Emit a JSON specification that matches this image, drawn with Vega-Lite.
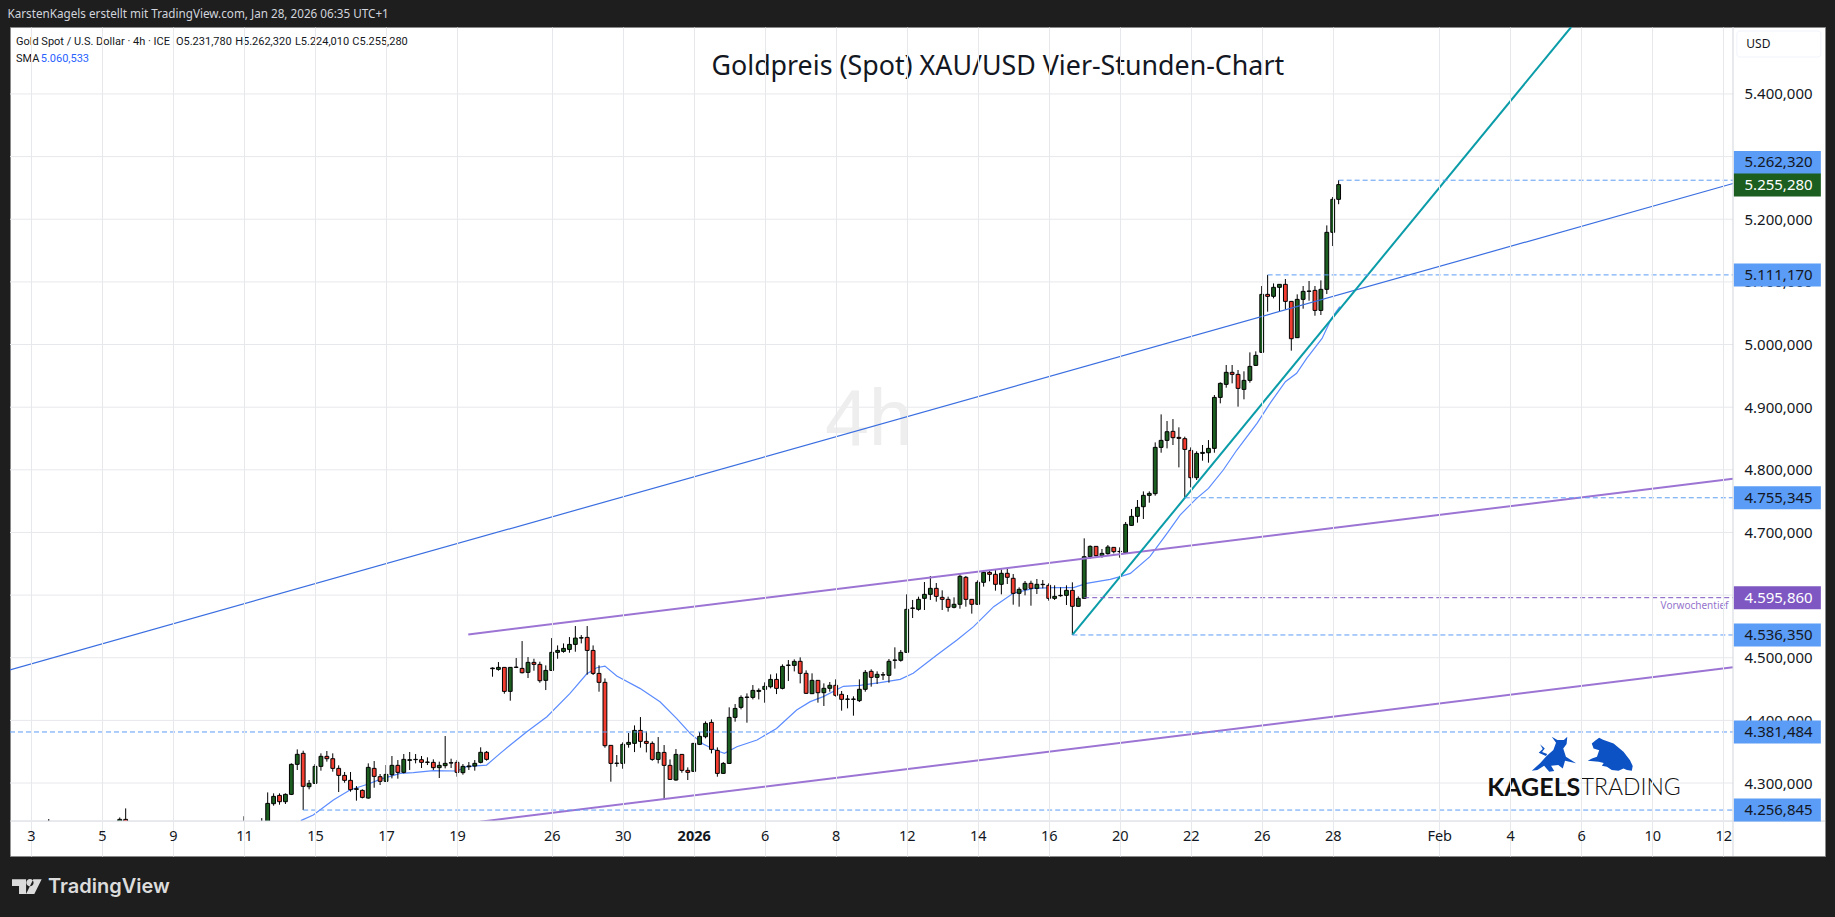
{
"$schema":"https://vega.github.io/schema/vega-lite/v6.json",
"width":1815,"height":829,
"autosize":{"type":"none"},
"padding":{"left":10,"top":27,"right":10,"bottom":61},
"background":"#1e1e1e",
"view":{"fill":"#ffffff","stroke":"#8a8a8a"},
"title":{"text":"KarstenKagels erstellt mit TradingView.com, Jan 28, 2026 06:35 UTC+1","anchor":"start","color":"#d1d4dc","font":"Noto Sans","fontSize":11.7,"fontWeight":"normal","offset":6,"dx":-2},
"config":{"font":"Noto Sans"},
"datasets":{
"candles":[
{"bar":3,"open":4225,"high":4242.5,"low":4215,"close":4232},
{"bar":15,"open":4228,"high":4245,"low":4222,"close":4242},
{"bar":16,"open":4242,"high":4259.5,"low":4225,"close":4230},
{"bar":36,"open":4225,"high":4247,"low":4218,"close":4232},
{"bar":39,"open":4228,"high":4244,"low":4222,"close":4235},
{"bar":40,"open":4232,"high":4285,"low":4225,"close":4267.5},
{"bar":41,"open":4267,"high":4283.5,"low":4263.8,"close":4278.7},
{"bar":42,"open":4280.3,"high":4283.5,"low":4265.4,"close":4270.2},
{"bar":43,"open":4270.2,"high":4283.5,"low":4266.5,"close":4281.9},
{"bar":44,"open":4281.9,"high":4331.4,"low":4280.8,"close":4329.8},
{"bar":45,"open":4329.8,"high":4353.7,"low":4320.8,"close":4345.8},
{"bar":46,"open":4347.4,"high":4351.6,"low":4256.9,"close":4294.7},
{"bar":47,"open":4294.1,"high":4304.8,"low":4289.9,"close":4299.5},
{"bar":48,"open":4299.5,"high":4330.3,"low":4298.4,"close":4326.6},
{"bar":49,"open":4326.6,"high":4347.4,"low":4319.7,"close":4342.6},
{"bar":50,"open":4342.6,"high":4351.1,"low":4334.1,"close":4338.8},
{"bar":51,"open":4338.8,"high":4347.4,"low":4318.1,"close":4323.4},
{"bar":52,"open":4323.4,"high":4328.2,"low":4285.6,"close":4312.2},
{"bar":53,"open":4312.2,"high":4317.6,"low":4300.5,"close":4304.3},
{"bar":54,"open":4304.3,"high":4317.6,"low":4286.2,"close":4289.4},
{"bar":55,"open":4289.9,"high":4295.2,"low":4271.8,"close":4290.9},
{"bar":56,"open":4288.3,"high":4289.9,"low":4275.5,"close":4277.1},
{"bar":57,"open":4276,"high":4331.4,"low":4275,"close":4325},
{"bar":58,"open":4323.4,"high":4335.1,"low":4292.5,"close":4310.6},
{"bar":59,"open":4310.1,"high":4314.4,"low":4296.8,"close":4302.7},
{"bar":60,"open":4302.7,"high":4328.7,"low":4301.6,"close":4313.8},
{"bar":61,"open":4313.3,"high":4343.1,"low":4307.4,"close":4328.2},
{"bar":62,"open":4328.2,"high":4336.7,"low":4306.9,"close":4317},
{"bar":63,"open":4317,"high":4346.3,"low":4315.4,"close":4337.8},
{"bar":64,"open":4336.2,"high":4349.5,"low":4320.8,"close":4337.2},
{"bar":65,"open":4337.3,"high":4346.3,"low":4331.4,"close":4337.8},
{"bar":66,"open":4337.2,"high":4343.1,"low":4324,"close":4333},
{"bar":67,"open":4333,"high":4341,"low":4328.7,"close":4333.5},
{"bar":68,"open":4333,"high":4337.8,"low":4320.8,"close":4324.5},
{"bar":69,"open":4324.5,"high":4334.1,"low":4308,"close":4328.2},
{"bar":70,"open":4327.7,"high":4375,"low":4323.4,"close":4331.4},
{"bar":71,"open":4331.9,"high":4338.8,"low":4324,"close":4332.4},
{"bar":72,"open":4333,"high":4336.7,"low":4310.1,"close":4317},
{"bar":73,"open":4316.5,"high":4330.3,"low":4313.3,"close":4326.6},
{"bar":74,"open":4326,"high":4333.5,"low":4320.8,"close":4327.2},
{"bar":75,"open":4327.1,"high":4336.7,"low":4319.7,"close":4331.4},
{"bar":76,"open":4333,"high":4357,"low":4331.4,"close":4349},
{"bar":77,"open":4349,"high":4351.1,"low":4335.7,"close":4337.8},
{"bar":78,"open":4482.5,"high":4484.6,"low":4469.7,"close":4483.5},
{"bar":79,"open":4481.4,"high":4493.1,"low":4479.3,"close":4484.6},
{"bar":80,"open":4484.6,"high":4485,"low":4442.6,"close":4446.3},
{"bar":81,"open":4446.3,"high":4485,"low":4431.4,"close":4484.6},
{"bar":82,"open":4484.6,"high":4499.5,"low":4483.5,"close":4485},
{"bar":83,"open":4483,"high":4526.6,"low":4475,"close":4476.1},
{"bar":84,"open":4476.6,"high":4501.1,"low":4467.6,"close":4492.6},
{"bar":85,"open":4492.6,"high":4498.4,"low":4479.3,"close":4489.4},
{"bar":86,"open":4489.4,"high":4493.7,"low":4460.1,"close":4463.3},
{"bar":87,"open":4463.9,"high":4487.8,"low":4448.4,"close":4479.8},
{"bar":88,"open":4479.8,"high":4531.4,"low":4479.3,"close":4508.6},
{"bar":89,"open":4508.6,"high":4519.7,"low":4498.4,"close":4511.7},
{"bar":90,"open":4510.1,"high":4522.9,"low":4508,"close":4514.9},
{"bar":91,"open":4513.3,"high":4533,"low":4508,"close":4521.3},
{"bar":92,"open":4521.3,"high":4550.6,"low":4509.6,"close":4531.4},
{"bar":93,"open":4531.4,"high":4536.2,"low":4522.9,"close":4532},
{"bar":94,"open":4532.5,"high":4550.6,"low":4472.9,"close":4511.7},
{"bar":95,"open":4511.7,"high":4519.7,"low":4472.4,"close":4475},
{"bar":96,"open":4475,"high":4487.8,"low":4445.8,"close":4460.7},
{"bar":97,"open":4460.7,"high":4467,"low":4356.4,"close":4359.6},
{"bar":98,"open":4360.1,"high":4360.3,"low":4302.1,"close":4331.3},
{"bar":99,"open":4331.3,"high":4344.7,"low":4326,"close":4331.8},
{"bar":100,"open":4331.3,"high":4364.9,"low":4322.8,"close":4361.7},
{"bar":101,"open":4361.7,"high":4379.8,"low":4356.4,"close":4364.9},
{"bar":102,"open":4363.3,"high":4392,"low":4349.4,"close":4384},
{"bar":103,"open":4384,"high":4405.3,"low":4356.4,"close":4366.5},
{"bar":104,"open":4366.5,"high":4382.4,"low":4348.9,"close":4363.3},
{"bar":105,"open":4363.3,"high":4366.5,"low":4335.6,"close":4337.7},
{"bar":106,"open":4337.7,"high":4373.4,"low":4331.3,"close":4348.9},
{"bar":107,"open":4348.9,"high":4360.6,"low":4274.4,"close":4328.2},
{"bar":108,"open":4328.2,"high":4337.7,"low":4304.8,"close":4305.8},
{"bar":109,"open":4304.8,"high":4354.2,"low":4303.7,"close":4345.7},
{"bar":110,"open":4345.7,"high":4346,"low":4316.4,"close":4320.2},
{"bar":111,"open":4320.2,"high":4325,"low":4304.8,"close":4317},
{"bar":112,"open":4318.6,"high":4363.5,"low":4318,"close":4363.3},
{"bar":113,"open":4361.7,"high":4381.4,"low":4360.6,"close":4374.5},
{"bar":114,"open":4373.9,"high":4398.4,"low":4371.3,"close":4395.2},
{"bar":115,"open":4396.8,"high":4401.6,"low":4347.3,"close":4353.7},
{"bar":116,"open":4352.1,"high":4356.9,"low":4310.1,"close":4315.4},
{"bar":117,"open":4315.4,"high":4333.5,"low":4314.9,"close":4331.3},
{"bar":118,"open":4331.3,"high":4420.8,"low":4330.8,"close":4404.8},
{"bar":119,"open":4404.8,"high":4426.1,"low":4397.9,"close":4419.1},
{"bar":120,"open":4420.8,"high":4439.9,"low":4417.6,"close":4436.7},
{"bar":121,"open":4436.7,"high":4443.1,"low":4396.3,"close":4437.2},
{"bar":122,"open":4436.7,"high":4456.4,"low":4433.5,"close":4447.9},
{"bar":123,"open":4446.3,"high":4451.1,"low":4433.5,"close":4447.9},
{"bar":124,"open":4449.5,"high":4460.7,"low":4428.2,"close":4454.3},
{"bar":125,"open":4453.7,"high":4473.4,"low":4451.1,"close":4465.4},
{"bar":126,"open":4465.4,"high":4475,"low":4442,"close":4451.1},
{"bar":127,"open":4451.1,"high":4489.4,"low":4449.5,"close":4486.2},
{"bar":128,"open":4487.8,"high":4496.3,"low":4462.8,"close":4488.3},
{"bar":129,"open":4487.8,"high":4497.4,"low":4478.2,"close":4494.2},
{"bar":130,"open":4494.3,"high":4500.6,"low":4459.1,"close":4475.1},
{"bar":131,"open":4475.1,"high":4479.9,"low":4442.1,"close":4443.2},
{"bar":132,"open":4442.6,"high":4475.1,"low":4442.1,"close":4463.9},
{"bar":133,"open":4463.9,"high":4464.2,"low":4428.3,"close":4444.2},
{"bar":134,"open":4444.2,"high":4459.1,"low":4423,"close":4451.2},
{"bar":135,"open":4451.2,"high":4461.3,"low":4445.8,"close":4456},
{"bar":136,"open":4456,"high":4465.5,"low":4437.9,"close":4440},
{"bar":137,"open":4441.6,"high":4446.9,"low":4415.5,"close":4433.6},
{"bar":138,"open":4433.6,"high":4440.5,"low":4419.2,"close":4434.1},
{"bar":139,"open":4433.6,"high":4438.4,"low":4407.5,"close":4434.1},
{"bar":140,"open":4431.5,"high":4465.5,"low":4429.3,"close":4449.6},
{"bar":141,"open":4449.6,"high":4480.4,"low":4445.8,"close":4476.7},
{"bar":142,"open":4478.3,"high":4481.5,"low":4453.8,"close":4468.7},
{"bar":143,"open":4468.7,"high":4478.3,"low":4458.1,"close":4473.5},
{"bar":144,"open":4472.4,"high":4477.2,"low":4464.5,"close":4472.9},
{"bar":145,"open":4471.9,"high":4498,"low":4460.2,"close":4494.3},
{"bar":146,"open":4495.9,"high":4516.6,"low":4482.6,"close":4496.4},
{"bar":147,"open":4495.9,"high":4512.4,"low":4493.7,"close":4508.6},
{"bar":148,"open":4508.6,"high":4601.2,"low":4508.1,"close":4577.3},
{"bar":149,"open":4578.9,"high":4592.2,"low":4563.4,"close":4579.4},
{"bar":150,"open":4577.3,"high":4597.5,"low":4575.1,"close":4593.2},
{"bar":151,"open":4594.8,"high":4620.9,"low":4576.2,"close":4601.2},
{"bar":152,"open":4601.2,"high":4630.5,"low":4592.2,"close":4610.8},
{"bar":153,"open":4610.8,"high":4619.3,"low":4589.5,"close":4598},
{"bar":154,"open":4596.4,"high":4607.6,"low":4576.2,"close":4593.2},
{"bar":155,"open":4593.2,"high":4597.5,"low":4573.6,"close":4580.5},
{"bar":156,"open":4580.5,"high":4596.4,"low":4578.9,"close":4585.3},
{"bar":157,"open":4585.3,"high":4634.8,"low":4578.3,"close":4630},
{"bar":158,"open":4628.4,"high":4630.5,"low":4581.5,"close":4593.2},
{"bar":159,"open":4593.2,"high":4593.5,"low":4570.4,"close":4585.3},
{"bar":160,"open":4585.3,"high":4623.6,"low":4584.7,"close":4620.4},
{"bar":161,"open":4620.4,"high":4640.1,"low":4613.5,"close":4636.3},
{"bar":162,"open":4636.3,"high":4640.1,"low":4622,"close":4633.2},
{"bar":163,"open":4633.2,"high":4641.1,"low":4607.1,"close":4617.2},
{"bar":164,"open":4617.2,"high":4641.1,"low":4601.2,"close":4634.8},
{"bar":165,"open":4634.8,"high":4642.7,"low":4617.7,"close":4628.4},
{"bar":166,"open":4626.8,"high":4633.7,"low":4584.7,"close":4602.8},
{"bar":167,"open":4602.8,"high":4612.4,"low":4581.5,"close":4609.2},
{"bar":168,"open":4609.2,"high":4622.5,"low":4599.6,"close":4618.8},
{"bar":169,"open":4618.8,"high":4623,"low":4583.1,"close":4610.8},
{"bar":170,"open":4610.8,"high":4625.7,"low":4601.8,"close":4617.2},
{"bar":171,"open":4616.7,"high":4624.1,"low":4610.8,"close":4617.2},
{"bar":172,"open":4615.6,"high":4618.8,"low":4591.1,"close":4594.8},
{"bar":173,"open":4594.8,"high":4615.6,"low":4592.2,"close":4598},
{"bar":174,"open":4599,"high":4612.4,"low":4597.5,"close":4599.6},
{"bar":175,"open":4599.6,"high":4615.6,"low":4584.2,"close":4607.6},
{"bar":176,"open":4607.6,"high":4620.4,"low":4536.35,"close":4582.1},
{"bar":177,"open":4582.1,"high":4598,"low":4581.5,"close":4594.8},
{"bar":178,"open":4594.8,"high":4690.6,"low":4594.3,"close":4661.3},
{"bar":179,"open":4661.3,"high":4679.4,"low":4658.1,"close":4677.8},
{"bar":180,"open":4677.8,"high":4678,"low":4661.3,"close":4662.9},
{"bar":181,"open":4662.9,"high":4673.6,"low":4659.7,"close":4666.6},
{"bar":182,"open":4666.1,"high":4679.9,"low":4664.5,"close":4676.7},
{"bar":183,"open":4676.2,"high":4676.5,"low":4666.6,"close":4669.3},
{"bar":184,"open":4669.3,"high":4676.2,"low":4659.7,"close":4669.8},
{"bar":185,"open":4667.7,"high":4716.7,"low":4666.6,"close":4712.9},
{"bar":186,"open":4711.3,"high":4737.4,"low":4710.3,"close":4725.7},
{"bar":187,"open":4725.7,"high":4751.8,"low":4715.6,"close":4740.1},
{"bar":188,"open":4741.1,"high":4765.6,"low":4721.5,"close":4759.2},
{"bar":189,"open":4759.2,"high":4765.6,"low":4747.5,"close":4762.4},
{"bar":190,"open":4761.9,"high":4843.8,"low":4758.7,"close":4835.8},
{"bar":191,"open":4835.8,"high":4888.5,"low":4827.3,"close":4847},
{"bar":192,"open":4847,"high":4877.9,"low":4834.2,"close":4860.8},
{"bar":193,"open":4861.4,"high":4881,"low":4839.6,"close":4851.3},
{"bar":194,"open":4851.8,"high":4867.8,"low":4803.9,"close":4850.2},
{"bar":195,"open":4849.7,"high":4852.9,"low":4755.345,"close":4832.6},
{"bar":196,"open":4831,"high":4835.8,"low":4772,"close":4787.4},
{"bar":197,"open":4787.4,"high":4829.5,"low":4783.7,"close":4826.2},
{"bar":198,"open":4826.2,"high":4839.6,"low":4814.5,"close":4827.8},
{"bar":199,"open":4827.3,"high":4847.5,"low":4811.4,"close":4834.2},
{"bar":200,"open":4834.2,"high":4919.4,"low":4827.3,"close":4915.6},
{"bar":201,"open":4915.6,"high":4939.6,"low":4906.1,"close":4938},
{"bar":202,"open":4936.4,"high":4967.3,"low":4931.1,"close":4955.6},
{"bar":203,"open":4955.6,"high":4967.3,"low":4938,"close":4952.4},
{"bar":204,"open":4952.4,"high":4959.3,"low":4900.8,"close":4930},
{"bar":205,"open":4928.4,"high":4957.2,"low":4912.5,"close":4942.8},
{"bar":206,"open":4942.8,"high":4987.5,"low":4939.1,"close":4965.1},
{"bar":207,"open":4966.7,"high":4989.1,"low":4965.7,"close":4982.7},
{"bar":208,"open":4987.5,"high":5093.4,"low":4987,"close":5080.1},
{"bar":209,"open":5080.1,"high":5111.17,"low":5052.4,"close":5076.9},
{"bar":210,"open":5076.9,"high":5097.6,"low":5073.7,"close":5091.3},
{"bar":211,"open":5091.3,"high":5096.5,"low":5053,"close":5096.1},
{"bar":212,"open":5096.1,"high":5104.6,"low":5056.1,"close":5068.9},
{"bar":213,"open":5068.9,"high":5069.2,"low":4990.2,"close":5009.3},
{"bar":214,"open":5010.9,"high":5080.1,"low":5010.4,"close":5072.1},
{"bar":215,"open":5072.1,"high":5093.4,"low":5057.2,"close":5084.9},
{"bar":216,"open":5084.9,"high":5101.4,"low":5070,"close":5085.4},
{"bar":217,"open":5086.5,"high":5093.4,"low":5046,"close":5054.5},
{"bar":218,"open":5054.5,"high":5102.4,"low":5047.1,"close":5088.1},
{"bar":219,"open":5088.1,"high":5190.2,"low":5080.6,"close":5179.1},
{"bar":220,"open":5179.1,"high":5235.5,"low":5157.2,"close":5231.8},
{"bar":221,"open":5231.78,"high":5262.32,"low":5224.01,"close":5255.28}
],
"sma":[
{"bar":45.6,"price":4239.9},{"bar":47.7,"price":4248.9},{"bar":51.1,"price":4272.9},{"bar":53.9,"price":4288.8},{"bar":57,"price":4298.4},{"bar":59,"price":4305.8},{"bar":62.4,"price":4315.4},{"bar":64.6,"price":4316.5},{"bar":68,"price":4319.7},{"bar":72,"price":4319.2},{"bar":73.6,"price":4326.1},{"bar":77,"price":4328.7},
{"bar":79.3,"price":4347.3},{"bar":81,"price":4360.6},{"bar":83.8,"price":4381.9},{"bar":87.2,"price":4405.8},{"bar":91.1,"price":4443.1},{"bar":93.9,"price":4474},{"bar":95.6,"price":4484.1},{"bar":97,"price":4486.7},{"bar":99,"price":4470.8},{"bar":102.9,"price":4451.1},{"bar":106.3,"price":4429.8},{"bar":109.1,"price":4403.2},{"bar":111.4,"price":4379.2},{"bar":113.6,"price":4362.2},{"bar":115.9,"price":4351.6},{"bar":117.2,"price":4347.3},{"bar":119.3,"price":4358},{"bar":122.7,"price":4368.6},{"bar":126,"price":4387.2},{"bar":129.4,"price":4416.6},{"bar":131.7,"price":4429.9},{"bar":133.9,"price":4437.9},{"bar":137.3,"price":4454.4},{"bar":140.1,"price":4456},{"bar":143.5,"price":4460.2},{"bar":146.9,"price":4465.5},{"bar":149.1,"price":4475.1},{"bar":153.1,"price":4504.4},{"bar":156.5,"price":4528.3},{"bar":159.3,"price":4549.6},{"bar":162.7,"price":4581.5},{"bar":166,"price":4602.8},{"bar":169.4,"price":4610.8},{"bar":172.8,"price":4611.9},{"bar":176.2,"price":4611.9},{"bar":178.4,"price":4618.8},{"bar":182.4,"price":4625.2},{"bar":184.1,"price":4629.4},{"bar":185.8,"price":4634.7},{"bar":189.1,"price":4661.3},{"bar":192,"price":4698.6},{"bar":194.2,"price":4727.8},{"bar":197,"price":4754.4},{"bar":199,"price":4770.4},{"bar":201.5,"price":4799.7},{"bar":203.8,"price":4831.6},{"bar":207.2,"price":4874.1},{"bar":209.4,"price":4906.1},{"bar":212,"price":4940.6},{"bar":213.9,"price":4954},{"bar":215.6,"price":4977.9},{"bar":218.2,"price":5009.8},{"bar":219.8,"price":5041.8},{"bar":221.2,"price":5060.5}
],
"trend":[
{"line":"channel top","bar":-3.55,"price":4480.7},{"line":"channel top","bar":287.65,"price":5257},
{"line":"upper purple","bar":73.9,"price":4537.1},{"line":"upper purple","bar":287.65,"price":4785.8},
{"line":"lower purple","bar":75.9,"price":4238.2},{"line":"lower purple","bar":287.65,"price":4484.7},
{"line":"teal","bar":176,"price":4536.35},{"line":"teal","bar":260.3,"price":5506.9}
],
"levels":[
{"bar":221,"end":287.65,"price":5262.32,"group":"blue"},
{"bar":209,"end":287.65,"price":5111.17,"group":"blue"},
{"bar":195,"end":287.65,"price":4755.345,"group":"blue"},
{"bar":176,"end":287.65,"price":4536.35,"group":"blue"},
{"bar":-3.55,"end":287.65,"price":4381.484,"group":"blue"},
{"bar":46,"end":287.65,"price":4256.845,"group":"blue"},
{"bar":178,"end":287.65,"price":4595.86,"group":"purple"}
],
"tags":[
{"label":"5.262,320","price":5290.6,"group":"blue","bar":287.8,"end":302.5,"textBar":289.6},
{"label":"5.255,280","price":5254.6,"group":"green","bar":287.8,"end":302.5,"textBar":289.6},
{"label":"5.111,170","price":5110.8,"group":"blue","bar":287.8,"end":302.5,"textBar":289.6},
{"label":"4.755,345","price":4755.3,"group":"blue","bar":287.8,"end":302.5,"textBar":289.6},
{"label":"4.595,860","price":4595.9,"group":"purple","bar":287.8,"end":302.5,"textBar":289.6},
{"label":"4.536,350","price":4536.3,"group":"blue","bar":287.8,"end":302.5,"textBar":289.6},
{"label":"4.381,484","price":4381.5,"group":"blue","bar":287.8,"end":302.5,"textBar":289.6},
{"label":"4.256,845","price":4256.8,"group":"blue","bar":287.8,"end":302.5,"textBar":289.6}
],
"grid":[{"price":4300,"bar":-3.55,"end":287.65},{"price":4400,"bar":-3.55,"end":287.65},{"price":4500,"bar":-3.55,"end":287.65},{"price":4600,"bar":-3.55,"end":287.65},{"price":4700,"bar":-3.55,"end":287.65},{"price":4800,"bar":-3.55,"end":287.65},{"price":4900,"bar":-3.55,"end":287.65},{"price":5000,"bar":-3.55,"end":287.65},{"price":5100,"bar":-3.55,"end":287.65},{"price":5200,"bar":-3.55,"end":287.65},{"price":5300,"bar":-3.55,"end":287.65},{"price":5400,"bar":-3.55,"end":287.65}]
},
"encoding":{
"x":{"field":"bar","type":"quantitative","title":null,"scale":{"domain":[-3.55,303.2],"nice":false,"zero":false,"padding":0},
  "axis":{"orient":"bottom","offset":-35,"zindex":1,"title":null,"grid":true,"gridColor":"#e7e8ec","gridWidth":1,"domain":false,"ticks":false,"labelFont":"Noto Sans","labelFontSize":14.5,"labelColor":"#131722","labelPadding":8,"labelOverlap":false,"labelFlush":false,"labelBound":false,
   "values":[0,12,24,36,48,60,72,88,100,112,124,136,148,160,172,184,196,208,220,238,250,262,274,286],
   "labelExpr":"{'0':'3','12':'5','24':'9','36':'11','48':'15','60':'17','72':'19','88':'26','100':'30','112':'2026','124':'6','136':'8','148':'12','160':'14','172':'16','184':'20','196':'22','208':'26','220':'28','238':'Feb','250':'4','262':'6','274':'10','286':'12'}[''+datum.value]",
   "labelFontWeight":{"condition":{"test":"datum.value===112","value":"bold"},"value":"normal"}}},
"y":{"field":"price","type":"quantitative","title":null,"scale":{"domain":[4183.5,5506.9],"nice":false,"zero":false},
  "axis":{"orient":"right","offset":-92,"zindex":0,"title":null,"grid":false,"domain":false,"ticks":false,"labelFont":"Noto Sans","labelFontSize":15,"labelColor":"#131722","labelPadding":11,"labelAlign":"left","labelOverlap":false,"labelFlush":false,"labelBound":false,
   "values":[4300,4400,4500,4600,4700,4800,4900,5000,5100,5200,5300,5400],
   "labelExpr":"replace(format(datum.value,',.0f'),',','.')+',000'"}}
},
"layer":[
{"data":{"name":"grid"},"mark":{"type":"rule","color":"#e7e8ec","strokeWidth":1},"encoding":{"x2":{"field":"end"}}},
{"data":{"values":[{"bar":141.6,"price":4877.9,"label":"4h"}]},"mark":{"type":"text","font":"Liberation Sans","fontSize":79,"color":"#eeeeee","align":"center","baseline":"middle"},"encoding":{"text":{"field":"label"}}},
{"data":{"name":"sma"},"mark":{"type":"line","color":"#5b8bff","strokeWidth":1.2,"clip":true}},
{"data":{"name":"candles"},"mark":{"type":"rule","color":"#000000","strokeWidth":1,"clip":true},"encoding":{"y":{"field":"low","type":"quantitative"},"y2":{"field":"high"}}},
{"data":{"name":"candles"},"mark":{"type":"bar","size":3.8,"stroke":"#000000","strokeWidth":1,"clip":true},"encoding":{"y":{"field":"open","type":"quantitative"},"y2":{"field":"close"},"color":{"condition":{"test":"datum.close>=datum.open","value":"#1b5e20"},"value":"#f23d30"}}},
{"data":{"name":"trend"},"mark":{"type":"line","clip":true},"encoding":{"detail":{"field":"line"},"strokeWidth":{"condition":{"test":"datum.line==='channel top'","value":1.2},"value":2},"color":{"field":"line","legend":null,"scale":{"domain":["channel top","upper purple","lower purple","teal"],"range":["#3a6ee0","#9c74d4","#9c74d4","#0a9ca8"]}}}},
{"data":{"name":"levels"},"mark":{"type":"rule","strokeWidth":1,"strokeDash":[5,3],"clip":true},"encoding":{"x2":{"field":"end"},"color":{"condition":{"test":"datum.group==='purple'","value":"#7e57c2"},"value":"#5b9cf6"}}},
{"data":{"values":[{"price":4239.3,"bottom":4184.5,"bar":-3.4,"end":303}]},"mark":{"type":"rect","color":"#ffffff"},"encoding":{"x2":{"field":"end"},"y2":{"field":"bottom"}}},
{"data":{"values":[{"price":4239.3,"bar":-3.55,"end":303.2}]},"mark":{"type":"rule","color":"#d1d4dc","strokeWidth":1},"encoding":{"x2":{"field":"end"}}},
{"data":{"values":[{"bar":287.65,"price":5506.9,"bottom":4183.5}]},"mark":{"type":"rule","color":"#d1d4dc","strokeWidth":1},"encoding":{"y2":{"field":"bottom"}}},
{"data":{"values":[{"price":5500.5,"bottom":5459,"bar":288.3,"end":302.5}]},"mark":{"type":"rect","fill":"#ffffff","stroke":"#f0f3fa","cornerRadius":3},"encoding":{"x2":{"field":"end"},"y2":{"field":"bottom"}}},
{"data":{"values":[{"bar":289.9,"price":5479,"label":"USD"}]},"mark":{"type":"text","align":"left","baseline":"middle","fontSize":12,"color":"#131722"},"encoding":{"text":{"field":"label"}}},
{"data":{"name":"tags"},"mark":{"type":"rule","strokeWidth":23},"encoding":{"x2":{"field":"end"},"color":{"condition":[{"test":"datum.group==='green'","value":"#1b5e20"},{"test":"datum.group==='purple'","value":"#7e57c2"}],"value":"#5b9cf6"}}},
{"data":{"name":"tags"},"mark":{"type":"text","align":"left","baseline":"middle","fontSize":15},"encoding":{"x":{"field":"textBar","type":"quantitative"},"text":{"field":"label"},"color":{"condition":{"test":"datum.group==='blue'","value":"#131722"},"value":"#ffffff"}}},
{"data":{"values":[{"bar":-2.54,"price":5482.9,"label":"Gold Spot / U.S. Dollar · 4h · ICE"},{"bar":24.5,"price":5482.9,"label":"O5.231,780"},{"bar":34.5,"price":5482.9,"label":"H5.262,320"},{"bar":44.6,"price":5482.9,"label":"L5.224,010"},{"bar":54.3,"price":5482.9,"label":"C5.255,280"},{"bar":-2.54,"price":5455.8,"label":"SMA"}]},"mark":{"type":"text","font":"Roboto","align":"left","baseline":"middle","fontSize":11,"color":"#131722"},"encoding":{"text":{"field":"label"}}},
{"data":{"values":[{"bar":1.64,"price":5455.8,"label":"5.060,533"}]},"mark":{"type":"text","font":"Roboto","align":"left","baseline":"middle","fontSize":11,"color":"#2962ff"},"encoding":{"text":{"field":"label"}}},
{"data":{"values":[{"bar":163.4,"price":5443.5,"label":"Goldpreis (Spot) XAU/USD Vier-Stunden-Chart"}]},"mark":{"type":"text","align":"center","baseline":"middle","fontSize":26.8,"color":"#131722"},"encoding":{"text":{"field":"label"}}},
{"data":{"values":[{"bar":286.9,"price":4582.6,"label":"Vorwochentief"}]},"mark":{"type":"text","align":"right","baseline":"middle","fontSize":10,"color":"#9575cd"},"encoding":{"text":{"field":"label"}}},
{"data":{"values":[{"bar":246.1,"price":4292,"label":"KAGELS"}]},"mark":{"type":"text","font":"Lato","fontWeight":"bold","align":"left","baseline":"middle","fontSize":25,"color":"#111111"},"encoding":{"text":{"field":"label"}}},
{"data":{"values":[{"bar":261.9,"price":4292,"label":"TRADING"}]},"mark":{"type":"text","font":"Lato","fontWeight":300,"align":"left","baseline":"middle","fontSize":23,"color":"#111111"},"encoding":{"text":{"field":"label"}}},
{"data":{"values":[{"bar":257.4,"price":4346.3}]},"mark":{"type":"point","filled":true,"opacity":1,"color":"#0d52c4","size":2025,"shape":"M-.99,.74L-.62,.41L-.33,.09L-.03,-.18L.09,-.5L-.1,-.77L.15,-.62L.44,-.62L.59,-.77L.56,-.44L.41,-.25L.53,.12L.98,.41L.49,.3L.39,.64L.19,.49L-.13,.52L.01,.76L-.21,.79L-.44,.52L-.74,.71ZM-.62,-.43L-.5,-.22L-.68,-.06L-.36,.09L-.3,0L-.53,-.09L-.41,-.24Z"}},
{"data":{"values":[{"bar":266.9,"price":4346.5}]},"mark":{"type":"point","filled":true,"opacity":1,"color":"#0d52c4","size":2025,"shape":"M-.82,-.46L-.66,-.6L-.49,-.72L-.32,-.63L.15,-.46L.59,-.09L.88,.28L1,.54L.96,.75L.74,.72L.59,.65L.37,.75L.07,.72L-.15,.57L-.37,.53L-.29,.4L-.51,.35L-1,.31L-.81,.21L-.59,.13L-.49,-.16L-.74,-.24Z"}},
{"data":{"values":[{"bar":-0.73,"price":4134.5}]},"mark":{"type":"point","filled":true,"opacity":1,"color":"#dcdcdc","size":900,"shape":"M-.98,-.49L-.04,-.49L-.04,.49L-.51,.49L-.51,-.04L-.98,-.04ZM-.02,-.27a.24,.24 0 1,0 .48,0a.24,.24 0 1,0 -.48,0ZM1,-.49L.51,.49L-.04,.49L.44,-.49Z"}},
{"data":{"values":[{"bar":2.87,"price":4134,"label":"TradingView"}]},"mark":{"type":"text","font":"Inter","fontWeight":600,"align":"left","baseline":"middle","fontSize":20,"color":"#dcdcdc"},"encoding":{"text":{"field":"label"}}}
]
}
